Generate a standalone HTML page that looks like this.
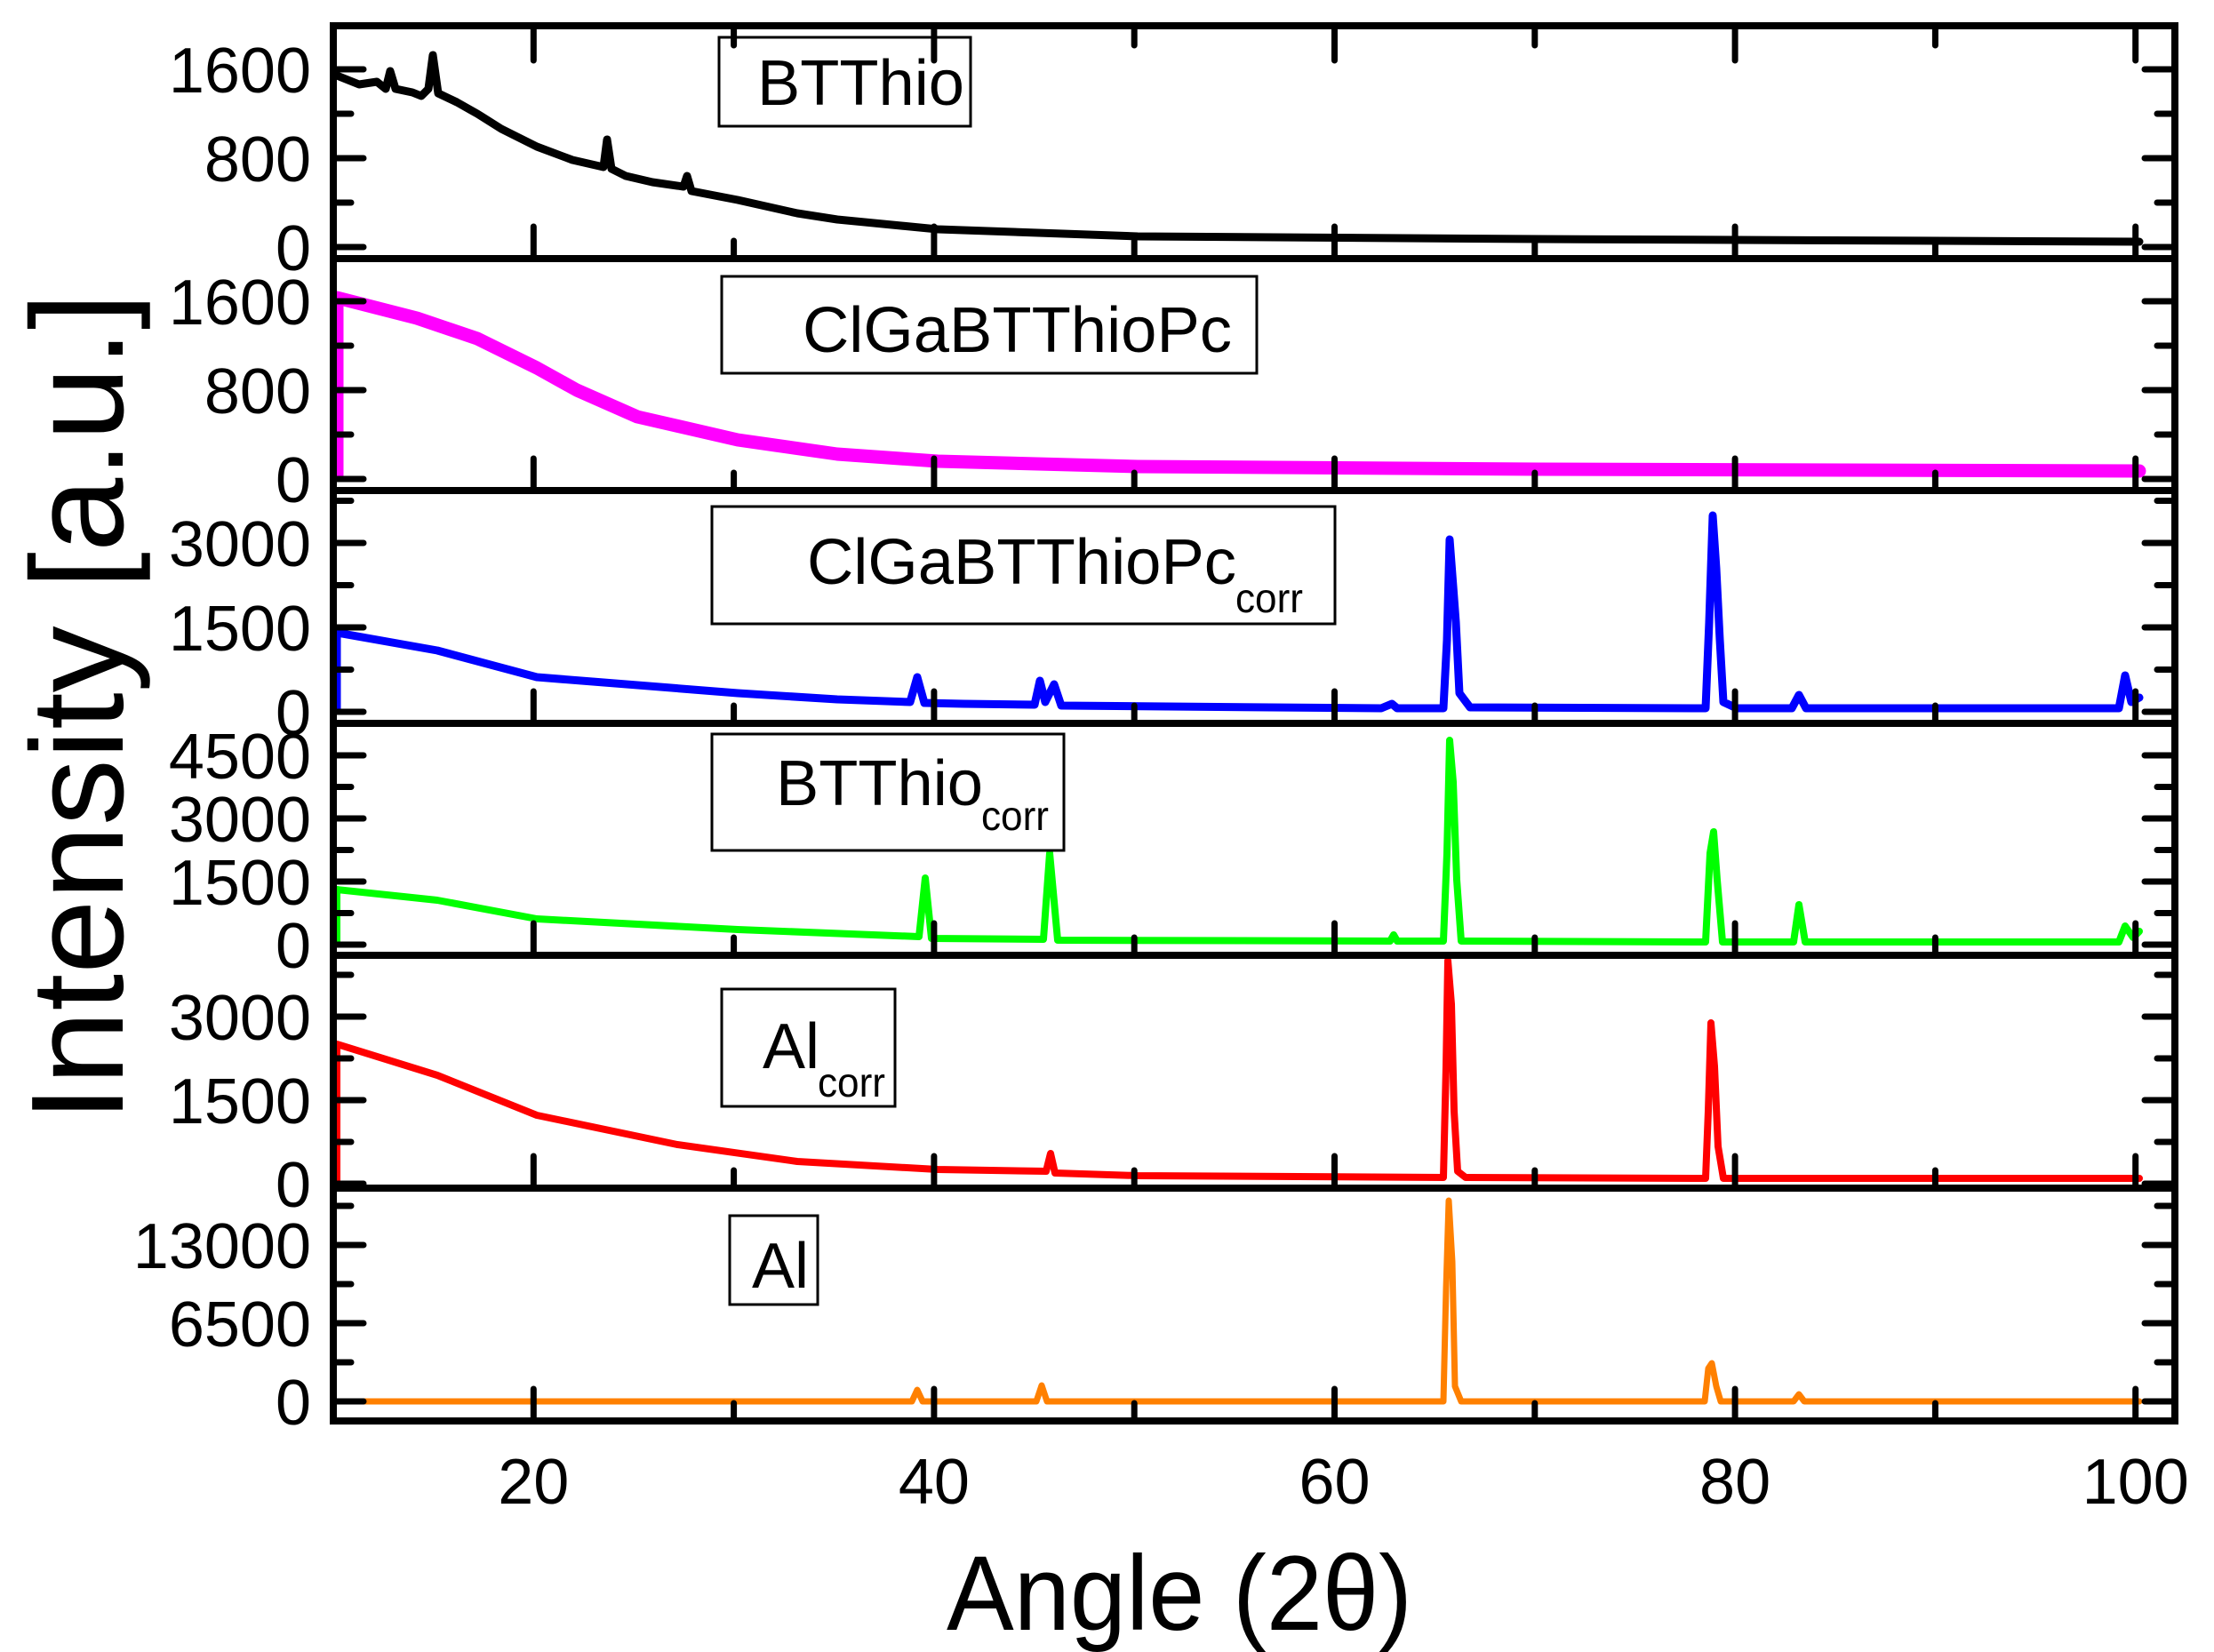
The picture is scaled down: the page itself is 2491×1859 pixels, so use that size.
<!DOCTYPE html>
<html><head><meta charset="utf-8"><style>
html,body{margin:0;padding:0;background:#fff;}
svg{display:block;}
text{font-family:"Liberation Sans",Arial,sans-serif;fill:#000;}
</style></head><body>
<svg id="s" width="2491" height="1859" viewBox="0 0 2491 1859" xmlns="http://www.w3.org/2000/svg">
<g fill="none" stroke-linejoin="round" stroke-linecap="round" transform="translate(4,0)">
<polyline stroke="#000000" stroke-width="9" points="375,85 400,95 420,92 430,100 435,80 441,100 460,104 470,108 478,100 483,62 489,105 510,115 533,128 560,145 600,165 640,180 675,188 679,157 684,190 700,198 730,205 765,210 769,198 774,215 826,225 893,240 938,247 1051,258 1276,266 1727,269 2403,272"/>
<polyline stroke="#ff00ff" stroke-width="15" points="375,535 375,335 465,358 533,381 600,414 645,439 713,469 826,495 938,511 1051,519 1276,525 1727,528 2403,530"/>
<polyline stroke="#0000ff" stroke-width="9" points="375,800 375,712 488,732 600,762 826,780 938,787 1020,790 1028,762 1036,791 1080,792 1160,793 1166,766 1172,790 1182,770 1190,794 1550,797 1562,792 1568,797 1620,797 1624,720 1627,607 1631,660 1634,700 1638,780 1650,796 1915,797 1919,700 1923,580 1927,640 1931,720 1935,790 1950,797 2012,797 2020,782 2028,797 2380,797 2387,760 2394,790 2403,785"/>
<polyline stroke="#00ff00" stroke-width="8" points="375,1062 375,1001 488,1013 600,1034 826,1046 1030,1054 1037,988 1044,1056 1170,1057 1177,960 1186,1058 1560,1059 1564,1052 1568,1059 1620,1059 1624,960 1627,833 1631,880 1635,990 1640,1059 1915,1060 1920,960 1924,936 1928,990 1934,1060 2014,1060 2020,1018 2027,1060 2380,1060 2387,1042 2396,1055 2403,1048"/>
<polyline stroke="#ff0000" stroke-width="8" points="375,1330 375,1175 488,1210 600,1255 758,1288 893,1307 1051,1316 1173,1318 1178,1298 1183,1320 1276,1323 1620,1325 1623,1200 1625,1081 1629,1130 1632,1250 1636,1318 1645,1325 1915,1326 1918,1250 1921,1151 1925,1200 1929,1290 1935,1326 2403,1326"/>
<polyline stroke="#ff8000" stroke-width="7" points="375,1577 1022,1577 1028,1564 1034,1577 1162,1577 1168,1559 1174,1577 1620,1577 1623,1450 1626,1351 1630,1420 1633,1560 1640,1577 1914,1577 1918,1540 1922,1534 1927,1560 1932,1577 2014,1577 2020,1569 2026,1577 2403,1577"/>
</g>
<g id="axes" stroke="#000" stroke-linecap="round"></g>
<g id="labels" font-size="72"></g>
<g fill="none" stroke="#000" stroke-width="3">
<rect x="809" y="42" width="283" height="100"/>
<rect x="812" y="311" width="602" height="109"/>
<rect x="801" y="570" width="701" height="132"/>
<rect x="801" y="826" width="396" height="131"/>
<rect x="812" y="1113" width="195" height="132"/>
<rect x="821" y="1368" width="99" height="100"/>
</g>
<text x="852" y="118" font-size="72" textLength="233" lengthAdjust="spacingAndGlyphs">BTThio</text>
<text x="903" y="396" font-size="72" textLength="483" lengthAdjust="spacingAndGlyphs">ClGaBTThioPc</text>
<text x="908" y="657" font-size="72" textLength="483" lengthAdjust="spacingAndGlyphs">ClGaBTThioPc</text>
<text x="1390" y="689" font-size="46" textLength="76" lengthAdjust="spacingAndGlyphs">corr</text>
<text x="873" y="906" font-size="72" textLength="233" lengthAdjust="spacingAndGlyphs">BTThio</text>
<text x="1104" y="934" font-size="46" textLength="76" lengthAdjust="spacingAndGlyphs">corr</text>
<text x="858" y="1202" font-size="72">Al</text>
<text x="920" y="1234" font-size="46" textLength="76" lengthAdjust="spacingAndGlyphs">corr</text>
<text x="846" y="1449" font-size="72">Al</text>
<text x="1327" y="1834" font-size="120" text-anchor="middle" textLength="524" lengthAdjust="spacingAndGlyphs">Angle (2θ)</text>
<text transform="translate(138,796) rotate(-90)" font-size="148" text-anchor="middle" textLength="933" lengthAdjust="spacingAndGlyphs">Intensity [a.u.]</text>
</svg>
<script>
(function(){
var NS="http://www.w3.org/2000/svg";
function el(n,a,p){var e=document.createElementNS(NS,n);for(var k in a)e.setAttribute(k,a[k]);p.appendChild(e);return e;}
var L=375,R=2447;
function X(a){return 375+(a-10)*22.53;}
var tops=[29,291,552,814,1075,1337,1599];
var panels=[
 {z:278,k:0.125,maj:800,labels:[0,800,1600]},
 {z:539,k:0.125,maj:800,labels:[0,800,1600]},
 {z:801,k:95/1500,maj:1500,labels:[0,1500,3000]},
 {z:1063,k:71/1500,maj:1500,labels:[0,1500,3000,4500]},
 {z:1332,k:94/1500,maj:1500,labels:[0,1500,3000]},
 {z:1577,k:88/6500,maj:6500,labels:[0,6500,13000]}
];
var ax=document.getElementById("axes"),lb=document.getElementById("labels");
el("rect",{x:L,y:29,width:R-L,height:1570,fill:"none","stroke-width":8,"stroke-linecap":"butt"},ax);
for(var i=1;i<6;i++)el("line",{x1:L,y1:tops[i],x2:R,y2:tops[i],"stroke-width":8,"stroke-linecap":"butt"},ax);
for(var i=0;i<6;i++){
 var P=panels[i],top=tops[i],bot=tops[i+1];
 var half=P.maj/2;
 for(var v=0;;v+=half){var y=P.z-P.k*v;if(y<top+4)break;
  var len=(Math.round(v/half)%2==0)?30:16;
  el("line",{x1:L+4,y1:y,x2:L+4+len,y2:y,"stroke-width":7},ax);
  el("line",{x1:R-4,y1:y,x2:R-4-len,y2:y,"stroke-width":7},ax);
 }
 for(var j=0;j<P.labels.length;j++){var t=el("text",{x:350,y:(P.z-P.k*P.labels[j]+26).toFixed(1),"text-anchor":"end"},lb);t.textContent=P.labels[j];}
 for(var a=20;a<=100;a+=10){var len=(a%20==0)?32:16;el("line",{x1:X(a),y1:bot-4,x2:X(a),y2:bot-4-len,"stroke-width":7},ax);}
}
for(var a=20;a<=100;a+=10){var len=(a%20==0)?35:18;el("line",{x1:X(a),y1:33,x2:X(a),y2:33+len,"stroke-width":7},ax);}
var xl=[20,40,60,80,100];
for(var j=0;j<xl.length;j++){var t=el("text",{x:X(xl[j]),y:1692,"text-anchor":"middle"},lb);t.textContent=xl[j];}
})();
</script>
</body></html>
